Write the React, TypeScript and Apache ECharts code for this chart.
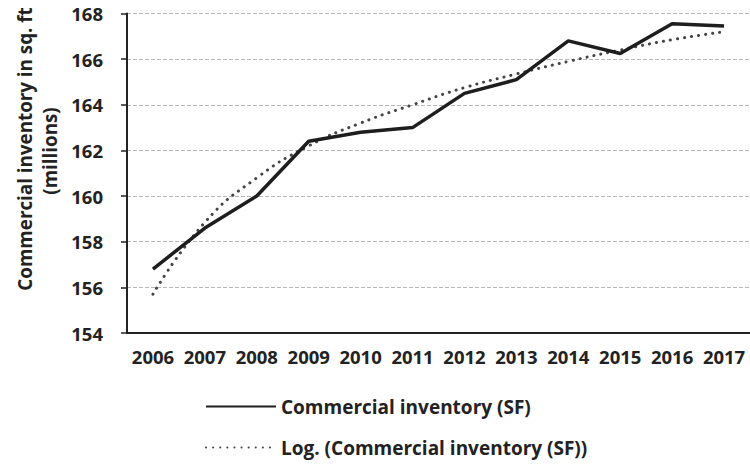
import React, { useEffect, useRef } from "react";
import * as echarts from "echarts";

const years = ["2006", "2007", "2008", "2009", "2010", "2011", "2012", "2013", "2014", "2015", "2016", "2017"];
const inventory = [156.8, 158.6, 160.0, 162.4, 162.8, 163.0, 164.5, 165.1, 166.8, 166.25, 167.55, 167.45];
const logTrend = [155.7, 158.85, 160.8, 162.2, 163.2, 164.0, 164.75, 165.35, 165.9, 166.4, 166.85, 167.2];
const yTitle1 = "Commercial inventory in sq. ft";
const yTitle2 = "(millions)";
const seriesName = "Commercial inventory (SF)";
const trendName = "Log. (Commercial inventory (SF))";

const FONT = "'Open Sans'";
const FS = 18.5;

export default function App() {
  const ref = useRef<HTMLDivElement>(null);
  useEffect(() => {
    if (!ref.current) return;
    const chart = echarts.init(ref.current, null, { renderer: "svg" });
    chart.setOption({
      animation: false,
      backgroundColor: "#ffffff",
      textStyle: { fontFamily: FONT },
      grid: { left: 127, right: 0, top: 13.5, bottom: 132, containLabel: false },
      xAxis: {
        type: "category",
        data: years,
        boundaryGap: true,
        axisLine: { lineStyle: { color: "#222", width: 2 } },
        axisTick: { show: false },
        axisLabel: { color: "#222", fontSize: FS, fontWeight: "bold", fontFamily: FONT, margin: 14, interval: 0 },
        splitLine: { show: false },
      },
      yAxis: {
        type: "value",
        min: 154,
        max: 168,
        interval: 2,
        axisLine: { show: true, lineStyle: { color: "#222", width: 2 } },
        axisTick: { show: true, length: 6, lineStyle: { color: "#222", width: 1.5 } },
        axisLabel: { color: "#222", fontSize: FS, fontWeight: "bold", fontFamily: FONT, margin: 24 },
        splitLine: { show: true, lineStyle: { color: "#b8b8b8", width: 1, type: [4, 2] } },
      },
      legend: {
        orient: "vertical",
        left: 205,
        top: 397,
        padding: 0,
        height: 68,
        itemWidth: 70,
        itemHeight: 22,
        itemGap: 22,
        itemStyle: { opacity: 0 },
        textStyle: { color: "#222", fontSize: 19, fontWeight: "bold", fontFamily: FONT },
        data: [seriesName, trendName],
      },
      graphic: [
        {
          type: "text",
          x: 25,
          y: 149,
          rotation: Math.PI / 2,
          style: { text: yTitle1, fill: "#222", font: `bold 18.8px ${FONT}`, textAlign: "center", textVerticalAlign: "middle" },
        },
        {
          type: "text",
          x: 50,
          y: 151,
          rotation: Math.PI / 2,
          style: { text: yTitle2, fill: "#222", font: `bold 18.8px ${FONT}`, textAlign: "center", textVerticalAlign: "middle" },
        },
      ],
      series: [
        {
          name: seriesName,
          type: "line",
          data: inventory,
          symbol: "none",
          lineStyle: { color: "#1e1e1e", width: 3.5 },
          itemStyle: { color: "#1e1e1e" },
          z: 3,
        },
        {
          name: trendName,
          type: "line",
          data: logTrend,
          symbol: "none",
          smooth: true,
          lineStyle: { color: "#444", width: 3, type: [0.1, 7], cap: "round" },
          itemStyle: { color: "#444" },
          z: 2,
        },
      ],
    });
    return () => chart.dispose();
  }, []);
  return <div ref={ref} style={{ width: 750, height: 465, position: "absolute", left: 0, top: 0 }} />;
}
